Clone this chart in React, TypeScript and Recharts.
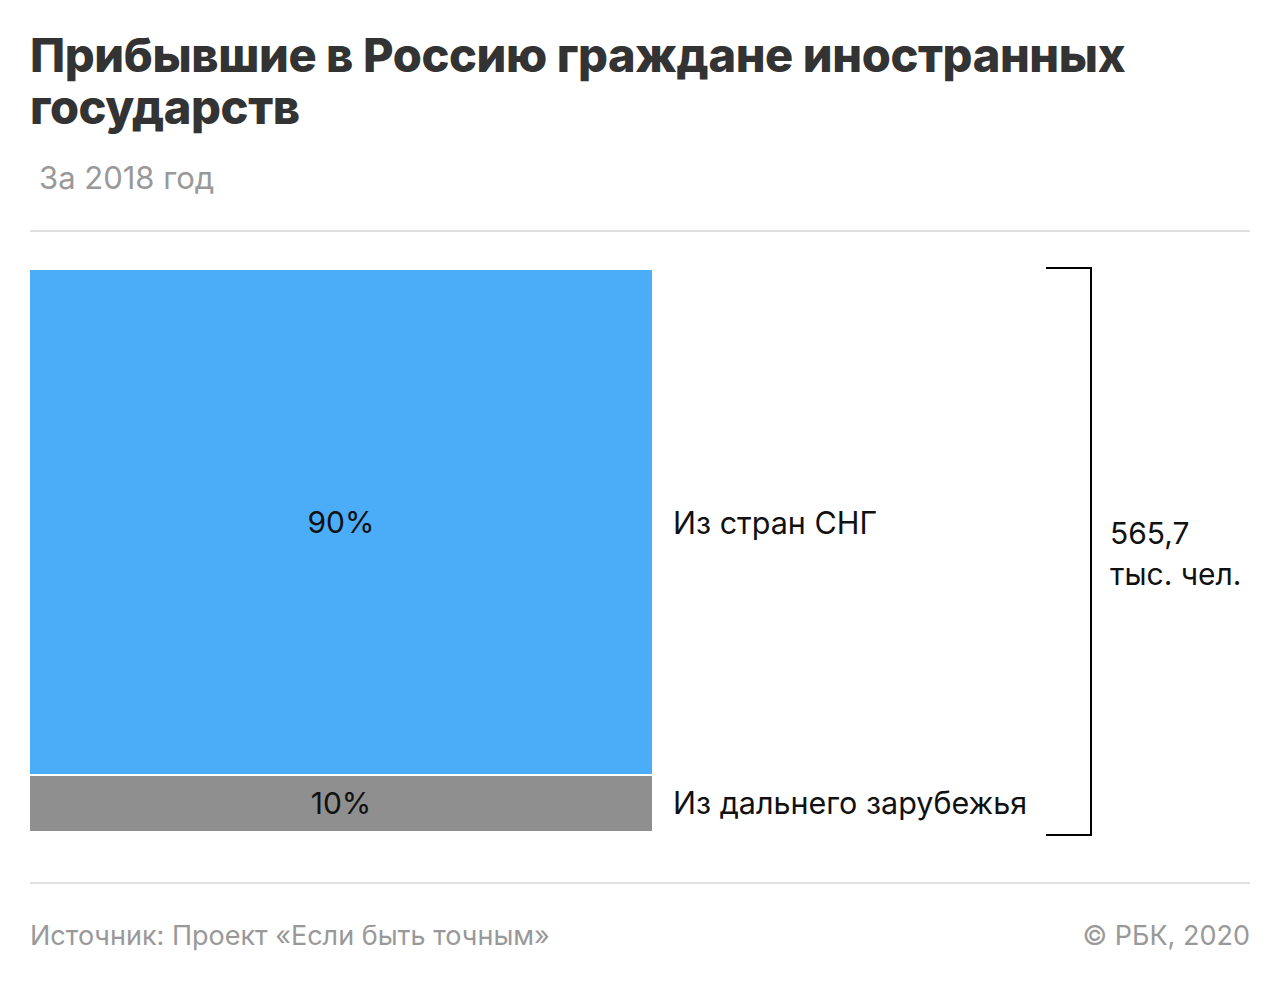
import { BarChart, Bar, XAxis, YAxis, LabelList } from "recharts";

const categories = ["Из дальнего зарубежья", "Из стран СНГ"];
const shares = [10, 90];
const colors = ["#8f8f8f", "#4badf7"];
const totalLines = ["565,7", "тыс. чел."];

const FONT = "Inter, 'Noto Sans', sans-serif";

const row: Record<string, string | number> = { name: "2018" };
shares.forEach((v, i) => {
  row[`s${i}`] = v;
});
const data = [row];

function sideLabel(i: number) {
  return (props: any) => {
    const { x, y, width, height } = props;
    return (
      <text
        x={Number(x) + Number(width) + 21}
        y={Number(y) + Number(height) / 2}
        dominantBaseline="central"
        fontSize={30.5}
        fontFamily={FONT}
        fill="#111"
      >
        {categories[i]}
      </text>
    );
  };
}

// segment with a thin white divider along its bottom edge
function segment(props: any) {
  const { x, y, width, height, fill } = props;
  return (
    <g>
      <rect x={x} y={y} width={width} height={height} fill={fill} />
      <line x1={x} x2={x + width} y1={y + height} y2={y + height} stroke="#fff" strokeWidth={2} />
    </g>
  );
}

export default function App() {
  return (
    <div style={{ position: "absolute", left: 0, top: 0, width: 1280, height: 986, background: "#fff", fontFamily: FONT }}>
      <div style={{ position: "absolute", left: 30, top: 29, width: 1220, fontSize: 47, fontWeight: 800, lineHeight: "52px", color: "#333", letterSpacing: -0.4 }}>
        Прибывшие в Россию граждане иностранных государств
      </div>
      <div style={{ position: "absolute", left: 39, top: 159, fontSize: 31, color: "#999" }}>За 2018 год</div>
      <div style={{ position: "absolute", left: 30, top: 230, width: 1220, height: 2, background: "#e0e0e0" }} />

      <BarChart width={1280} height={986} data={data} barCategoryGap={0}
        margin={{ top: 270, left: 30, right: 628, bottom: 155 }}>
        <XAxis dataKey="name" hide />
        <YAxis domain={[0, 100]} hide />
        {shares.map((_, i) => (
          <Bar key={i} dataKey={`s${i}`} stackId="a" fill={colors[i]}
            shape={i === shares.length - 1 ? segment : undefined}
            isAnimationActive={false}>
            <LabelList dataKey={`s${i}`} position="center" formatter={(v: any) => `${v}%`}
              fill="#111" fontSize={30} fontFamily={FONT} />
            <LabelList dataKey={`s${i}`} content={sideLabel(i)} />
          </Bar>
        ))}
      </BarChart>

      <svg style={{ position: "absolute", left: 0, top: 0 }} width={1280} height={986} pointerEvents="none">
        <polyline points="1046,268 1091,268 1091,835 1046,835" fill="none" stroke="#000" strokeWidth={2} />
        {totalLines.map((t, i) => (
          <text key={i} x={1110} y={544 + i * 41} fontSize={30} fontFamily={FONT} fill="#111">{t}</text>
        ))}
      </svg>

      <div style={{ position: "absolute", left: 30, top: 882, width: 1220, height: 2, background: "#e0e0e0" }} />
      <div style={{ position: "absolute", left: 30, top: 919, fontSize: 27, color: "#999" }}>
        Источник: Проект «Если быть точным»
      </div>
      <div style={{ position: "absolute", right: 30, top: 919, fontSize: 27, color: "#999" }}>© РБК, 2020</div>
    </div>
  );
}
